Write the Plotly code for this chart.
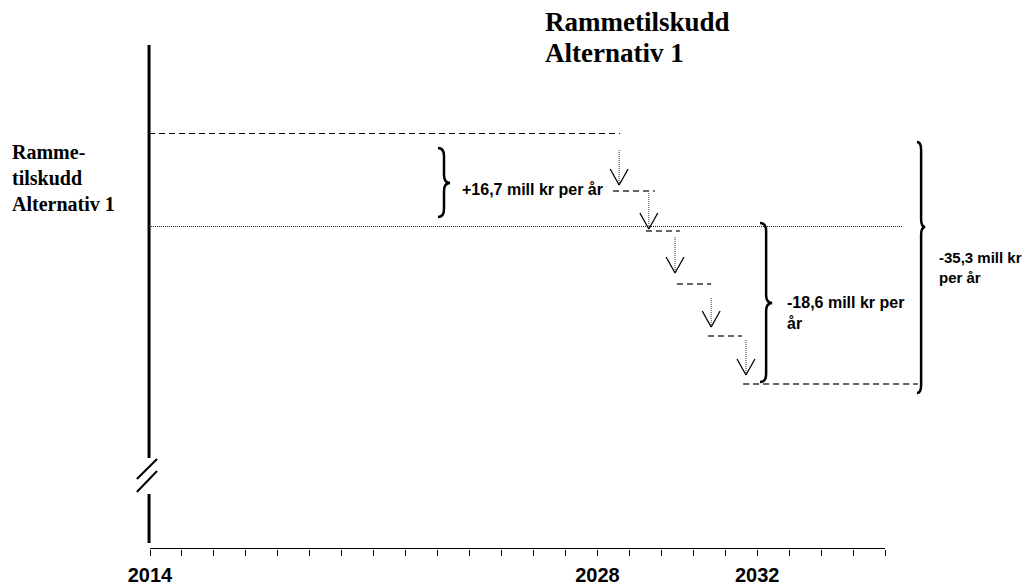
import plotly.graph_objects as go

# --- data (schematic units: x = year index from 2014, y = level units) ---
tick_pos = list(range(24))
tick_text = ["2014"] + [""] * 13 + ["2028"] + [""] * 4 + ["2032"] + [""] * 4
axis_x = [0, 23]

# horizontal levels
top_level = 41.55         # Rammetilskudd + 16,7
base_level = 32.25        # Rammetilskudd Alternativ 1
top_line_x = [-0.03, 14.71]
base_line_x = [-0.03, 23.56]

# stepwise reduction
step_x0 = [14.49, 15.52, 16.49, 17.46, 18.56]
step_x1 = [15.80, 16.58, 17.56, 18.52, 24.03]
step_level = [35.8, 31.8, 26.5, 21.3, 16.5]

# arrows between steps
arrow_x = [14.68, 15.61, 16.43, 17.56, 18.65]
arrow_top = [39.9, 35.6, 31.2, 25.1, 20.9]
arrow_tip = [36.4, 32.0, 27.6, 22.2, 17.4]

# vertical axis with break
vaxis_x = -0.03
vaxis_segments = [(50.4, 9.1), (5.5, 0.6)]
break_x = [-0.41, 0.22]
break_y = [(7.0, 9.0), (5.7, 7.8)]

# braces: x, top, bottom, mid, half width
braces = [
    (9.20, 40.1, 33.2, 36.6, 0.19),
    (19.28, 32.6, 16.7, 24.6, 0.19),
    (24.13, 40.7, 15.6, 32.2, 0.13),
]

labels = [
    (9.70, 36.0, "+16,7 mill kr per år", 16),
    (19.87, 23.65, "-18,6 mill kr per<br>år", 16),
    (24.63, 28.15, "-35,3 mill kr<br>per år", 15),
]

title_lines = ["Rammetilskudd", "Alternativ 1"]
side_label = "Ramme-<br>tilskudd<br>Alternativ 1"

# page body has an 8px margin: the figure is a bit smaller and offset
OFF = 8
W, H = 1030 - OFF, 586 - OFF
s = 735 / 23

fig = go.Figure()

def add_line(x, y, width=1, color="black", dash="solid"):
    fig.add_trace(go.Scatter(x=x, y=y, mode="lines", hoverinfo="skip",
                             line=dict(color=color, width=width, dash=dash),
                             showlegend=False))

# time axis line
add_line(axis_x, [0.05, 0.05], width=1)

# vertical axis
for y0, y1 in vaxis_segments:
    add_line([vaxis_x, vaxis_x], [y0, y1], width=3)
for y0, y1 in break_y:
    add_line(break_x, [y0, y1], width=2)

# levels
add_line(top_line_x, [top_level, top_level], width=1, dash="6px,4px")
add_line(base_line_x, [base_level, base_level], width=1, color="#222", dash="1px,1px")

for x0, x1, lv in zip(step_x0, step_x1, step_level):
    add_line([x0, x1], [lv, lv], width=1.5, color="#333", dash="6px,4px")

# arrows (dotted shaft, open head)
for ax, at, tip in zip(arrow_x, arrow_top, arrow_tip):
    add_line([ax, ax], [at, tip], width=1, color="#333", dash="1px,1px")
    add_line([ax - 0.28, ax, ax + 0.28], [tip + 1.6, tip, tip + 1.6], width=1.3)

# braces
def brace_path(x, top, bot, mid, w, h=0.8):
    return (f"M {x - w},{top} Q {x},{top} {x},{top - h} "
            f"L {x},{mid + h} Q {x},{mid} {x + w},{mid} "
            f"Q {x},{mid} {x},{mid - h} "
            f"L {x},{bot + h} Q {x},{bot} {x - w},{bot}")

for x, top, bot, mid, w in braces:
    fig.add_shape(type="path", path=brace_path(x, top, bot, mid, w),
                  xref="x", yref="y", line=dict(color="black", width=2.5))

sans = "Liberation Sans, Arial, sans-serif"
serif = "Liberation Serif, Times New Roman, serif"

for x, y, t, fs in labels:
    fig.add_annotation(x=x, y=y, xref="x", yref="y", text=f"<b>{t}</b>",
                       showarrow=False, xanchor="left", yanchor="middle", align="left",
                       font=dict(family=sans, size=fs, color="black"))

for yy, t in zip([22, 53], title_lines):
    fig.add_annotation(x=(543 - OFF) / W, y=(586 - yy) / H, xref="paper", yref="paper",
                       text=f"<b>{t}</b>", showarrow=False, xanchor="left", yanchor="middle",
                       font=dict(family=serif, size=27, color="black"))

fig.add_annotation(x=(10 - OFF) / W, y=(586 - 178) / H, xref="paper", yref="paper",
                   text=f"<b>{side_label}</b>", showarrow=False, xanchor="left",
                   yanchor="middle", align="left",
                   font=dict(family=serif, size=20, color="black"))

fig.update_layout(
    template="none",
    width=W, height=H,
    margin=dict(l=0, r=0, t=0, b=0),
    paper_bgcolor="white", plot_bgcolor="white",
    showlegend=False,
    xaxis=dict(domain=[0, 1], range=[(OFF - 150) / s, 880 / s], automargin=False,
               showline=False, showgrid=False, zeroline=False,
               ticks="outside", ticklen=6, tickwidth=1, tickcolor="black",
               ticklabelstandoff=2,
               tickmode="array", tickvals=tick_pos, ticktext=tick_text,
               tickfont=dict(family=sans, size=20, color="black", weight="bold")),
    yaxis=dict(domain=[37 / H, 1], range=[0, (549 - OFF) / 10], visible=False,
               automargin=False),
)

fig.write_html("out.html")
